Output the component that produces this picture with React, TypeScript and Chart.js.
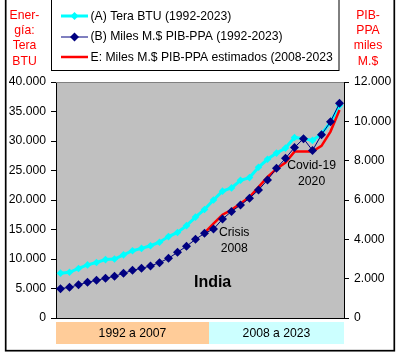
import React, { useEffect, useRef } from 'react';
import { Chart, registerables } from 'chart.js';

Chart.register(...registerables);

// ---------- DATA ----------
const years = [
  '1992', '1993', '1994', '1995', '1996', '1997', '1998', '1999',
  '2000', '2001', '2002', '2003', '2004', '2005', '2006', '2007',
  '2008', '2009', '2010', '2011', '2012', '2013', '2014', '2015',
  '2016', '2017', '2018', '2019', '2020', '2021', '2022', '2023',
];

// (A) Energy consumption, Tera BTU (left axis)
const energyTeraBTU = [
  7600, 7750, 8400, 9000, 9400, 9900, 10000, 10700,
  11400, 11800, 12250, 12850, 13800, 14500, 15650, 17100,
  18400, 20000, 21500, 22050, 23350, 23800, 25550, 26900,
  27950, 28800, 30600, 30400, 30100, 31200, 33200, 36000,
];

// (B) GDP PPP, miles de millones $ (right axis)
const gdpPPP = [
  1490, 1560, 1690, 1815, 1915, 2020, 2120, 2270,
  2425, 2525, 2645, 2815, 3035, 3340, 3650, 4000,
  4305, 4520, 5030, 5420, 5740, 6090, 6510, 7020,
  7610, 8120, 8670, 9120, 8520, 9320, 9980, 10920,
];

// E: estimated GDP PPP (2008-2023), right axis
const gdpEstimated = [
  null, null, null, null, null, null, null, null,
  null, null, null, null, null, null, null, null,
  4330, 4800, 5250, 5500, 5820, 6150, 6650, 7170,
  7580, 7900, 8460, 8460, 8460, 8750, 9480, 10580,
];

const legendLabels = [
  '(A) Tera BTU (1992-2023)',
  '(B) Miles M.$ PIB-PPA (1992-2023)',
  'E: Miles M.$ PIB-PPA estimados (2008-2023',
];
const leftTitle = ['Ener-', 'gía:', 'Tera', 'BTU'];
const rightTitle = ['PIB-', 'PPA', 'miles', 'M.$'];
const periodLabels = ['1992 a 2007', '2008 a 2023'];
const periodSplitIndex = 16.5; // boundary between the two period bands
const chartTitle = 'India';
// notes placed by category index and left-axis value
const notes = [
  { lines: ['Crisis', '2008'], index: 19.3, value: 14400 },
  { lines: ['Covid-19', '2020'], index: 27.9, value: 25800 },
];
const titleIndex = 16.9;
const titleValue = 5930;

const leftMax = 40000;
const leftStep = 5000;
const rightMax = 12000;
const rightStep = 2000;

const COLORS = {
  energy: '#00FFFF',
  gdp: '#000080',
  est: '#FF0000',
  plotBg: '#C0C0C0',
  band1: '#FFCC99',
  band2: '#CCFFFF',
};

const FONT = '"Liberation Sans", Arial, sans-serif';

const fmt = (v: number) => String(Math.round(v)).replace(/\B(?=(\d{3})+(?!\d))/g, '.');

function drawDiamond(ctx: CanvasRenderingContext2D, x: number, y: number, r: number, color: string) {
  ctx.beginPath();
  ctx.moveTo(x, y - r);
  ctx.lineTo(x + r, y);
  ctx.lineTo(x, y + r);
  ctx.lineTo(x - r, y);
  ctx.closePath();
  ctx.fillStyle = color;
  ctx.fill();
}

const decorPlugin = {
  id: 'decor',
  beforeDraw(chart: any) {
    const { ctx, chartArea } = chart;
    const { left, right, top, bottom } = chartArea;
    ctx.save();
    ctx.fillStyle = '#FFFFFF';
    ctx.fillRect(0, 0, chart.width, chart.height);
    // plot background
    ctx.fillStyle = COLORS.plotBg;
    ctx.fillRect(left, top, right - left, bottom - top);
    // period bands
    const xs = chart.scales.x;
    const split = xs.getPixelForValue(periodSplitIndex);
    const by = bottom + 4;
    const bh = 22;
    ctx.fillStyle = COLORS.band1;
    ctx.fillRect(left, by, split - left, bh);
    ctx.fillStyle = COLORS.band2;
    ctx.fillRect(split, by, right - split, bh);
    ctx.fillStyle = '#000';
    ctx.font = `12.2px ${FONT}`;
    ctx.textAlign = 'center';
    ctx.textBaseline = 'middle';
    ctx.fillText(periodLabels[0], (left + split) / 2, by + bh / 2 + 0.5);
    ctx.fillText(periodLabels[1], (split + right) / 2, by + bh / 2 + 0.5);

    // outer frame
    ctx.strokeStyle = '#000';
    ctx.lineWidth = 1.7;
    ctx.strokeRect(5.7, -5, 388.6, 355.7);

    // side titles
    ctx.fillStyle = '#FF0000';
    ctx.font = `12.2px ${FONT}`;
    leftTitle.forEach((t, i) => ctx.fillText(t, 24.5, 15.5 + i * 15.3));
    rightTitle.forEach((t, i) => ctx.fillText(t, 368, 15.5 + i * 15.3));

    // legend box
    ctx.strokeStyle = '#000';
    ctx.lineWidth = 1;
    ctx.strokeRect(51.5, -5, 287.5, 75.5);
    const rows = [16, 36.5, 57];
    const lx1 = 61;
    const lx2 = 88;
    // A
    ctx.strokeStyle = COLORS.energy;
    ctx.lineWidth = 3;
    ctx.beginPath();
    ctx.moveTo(lx1, rows[0]);
    ctx.lineTo(lx2, rows[0]);
    ctx.stroke();
    drawDiamond(ctx, (lx1 + lx2) / 2, rows[0], 4, COLORS.energy);
    // B
    ctx.strokeStyle = COLORS.gdp;
    ctx.lineWidth = 1;
    ctx.beginPath();
    ctx.moveTo(lx1, rows[1] + 0.5);
    ctx.lineTo(lx2, rows[1] + 0.5);
    ctx.stroke();
    drawDiamond(ctx, (lx1 + lx2) / 2, rows[1] + 0.5, 4.5, COLORS.gdp);
    // E
    ctx.strokeStyle = COLORS.est;
    ctx.lineWidth = 2.5;
    ctx.beginPath();
    ctx.moveTo(lx1, rows[2]);
    ctx.lineTo(lx2, rows[2]);
    ctx.stroke();
    ctx.fillStyle = '#000';
    ctx.textAlign = 'left';
    legendLabels.forEach((t, i) => ctx.fillText(t, 90.5, rows[i] + 0.5));
    ctx.restore();
  },
  beforeDatasetsDraw(chart: any) {
    const { ctx, chartArea } = chart;
    const { left, right, top, bottom } = chartArea;
    ctx.save();
    ctx.lineWidth = 1;
    ctx.strokeStyle = '#808080';
    ctx.beginPath();
    ctx.moveTo(left, top + 0.5);
    ctx.lineTo(right, top + 0.5);
    ctx.stroke();
    ctx.strokeStyle = '#000';
    ctx.beginPath();
    ctx.moveTo(left, bottom + 0.5);
    ctx.lineTo(right, bottom + 0.5);
    ctx.stroke();
    ctx.restore();
  },
  afterDatasetsDraw(chart: any) {
    const { ctx } = chart;
    const xs = chart.scales.x;
    const ys = chart.scales.y;
    ctx.save();
    ctx.fillStyle = '#000';
    ctx.textAlign = 'center';
    ctx.textBaseline = 'middle';
    ctx.font = `12.2px ${FONT}`;
    notes.forEach((n) => {
      const x = xs.getPixelForValue(n.index);
      const y = ys.getPixelForValue(n.value);
      n.lines.forEach((t, i) => ctx.fillText(t, x, y + i * 15.5));
    });
    ctx.font = `bold 16px ${FONT}`;
    ctx.fillText(chartTitle, xs.getPixelForValue(titleIndex), ys.getPixelForValue(titleValue));
    ctx.restore();
  },
};

export default function App() {
  const ref = useRef<HTMLCanvasElement | null>(null);

  useEffect(() => {
    if (!ref.current) return;
    Chart.defaults.font.family = FONT;
    const chart = new Chart(ref.current, {
      type: 'line',
      data: {
        labels: years,
        datasets: [
          {
            label: legendLabels[1],
            data: gdpPPP,
            yAxisID: 'y1',
            borderColor: COLORS.gdp,
            backgroundColor: COLORS.gdp,
            borderWidth: 1,
            pointStyle: 'rectRot',
            pointRadius: 4.5,
            pointBorderWidth: 0,
            pointBackgroundColor: COLORS.gdp,
            order: 1,
          },
          {
            label: legendLabels[2],
            data: gdpEstimated,
            yAxisID: 'y1',
            borderColor: COLORS.est,
            backgroundColor: COLORS.est,
            borderWidth: 2.5,
            pointRadius: 0,
            spanGaps: false,
            order: 2,
          },
          {
            label: legendLabels[0],
            data: energyTeraBTU,
            yAxisID: 'y',
            borderColor: COLORS.energy,
            backgroundColor: COLORS.energy,
            borderWidth: 3,
            pointStyle: 'rectRot',
            pointRadius: 3.8,
            pointBorderWidth: 0,
            pointBackgroundColor: COLORS.energy,
            order: 3,
          },
        ],
      },
      options: {
        responsive: false,
        animation: false,
        devicePixelRatio: 1,
        layout: { padding: { left: 0, right: 0, top: 82, bottom: 38 } },
        plugins: {
          legend: { display: false },
          tooltip: { enabled: false },
          title: { display: false },
        },
        scales: {
          x: {
            type: 'category',
            offset: true,
            display: false,
          },
          y: {
            position: 'left',
            min: 0,
            max: leftMax,
            afterFit: (s: any) => { s.width = 56; },
            border: { display: true, color: '#000', width: 1 },
            grid: { display: true, drawOnChartArea: false, drawTicks: true, tickLength: 5, color: '#000', tickColor: '#000' },
            ticks: {
              stepSize: leftStep,
              padding: 5,
              color: '#000',
              font: { size: 12.2, family: FONT },
              callback: (v: any) => fmt(Number(v)),
            },
          },
          y1: {
            position: 'right',
            min: 0,
            max: rightMax,
            afterFit: (s: any) => { s.width = 55; },
            border: { display: true, color: '#000', width: 1 },
            grid: { display: true, drawOnChartArea: false, drawTicks: true, tickLength: 5, color: '#000', tickColor: '#000' },
            ticks: {
              stepSize: rightStep,
              padding: 5,
              color: '#000',
              font: { size: 12.2, family: FONT },
              callback: (v: any) => fmt(Number(v)),
            },
          },
        },
      },
      plugins: [decorPlugin],
    } as any);
    return () => chart.destroy();
  }, []);

  return (
    <div style={{ position: 'absolute', left: 0, top: 0, width: 399, height: 356, background: '#fff' }}>
      <canvas ref={ref} width={399} height={356} style={{ display: 'block', width: 399, height: 356 }} />
    </div>
  );
}
